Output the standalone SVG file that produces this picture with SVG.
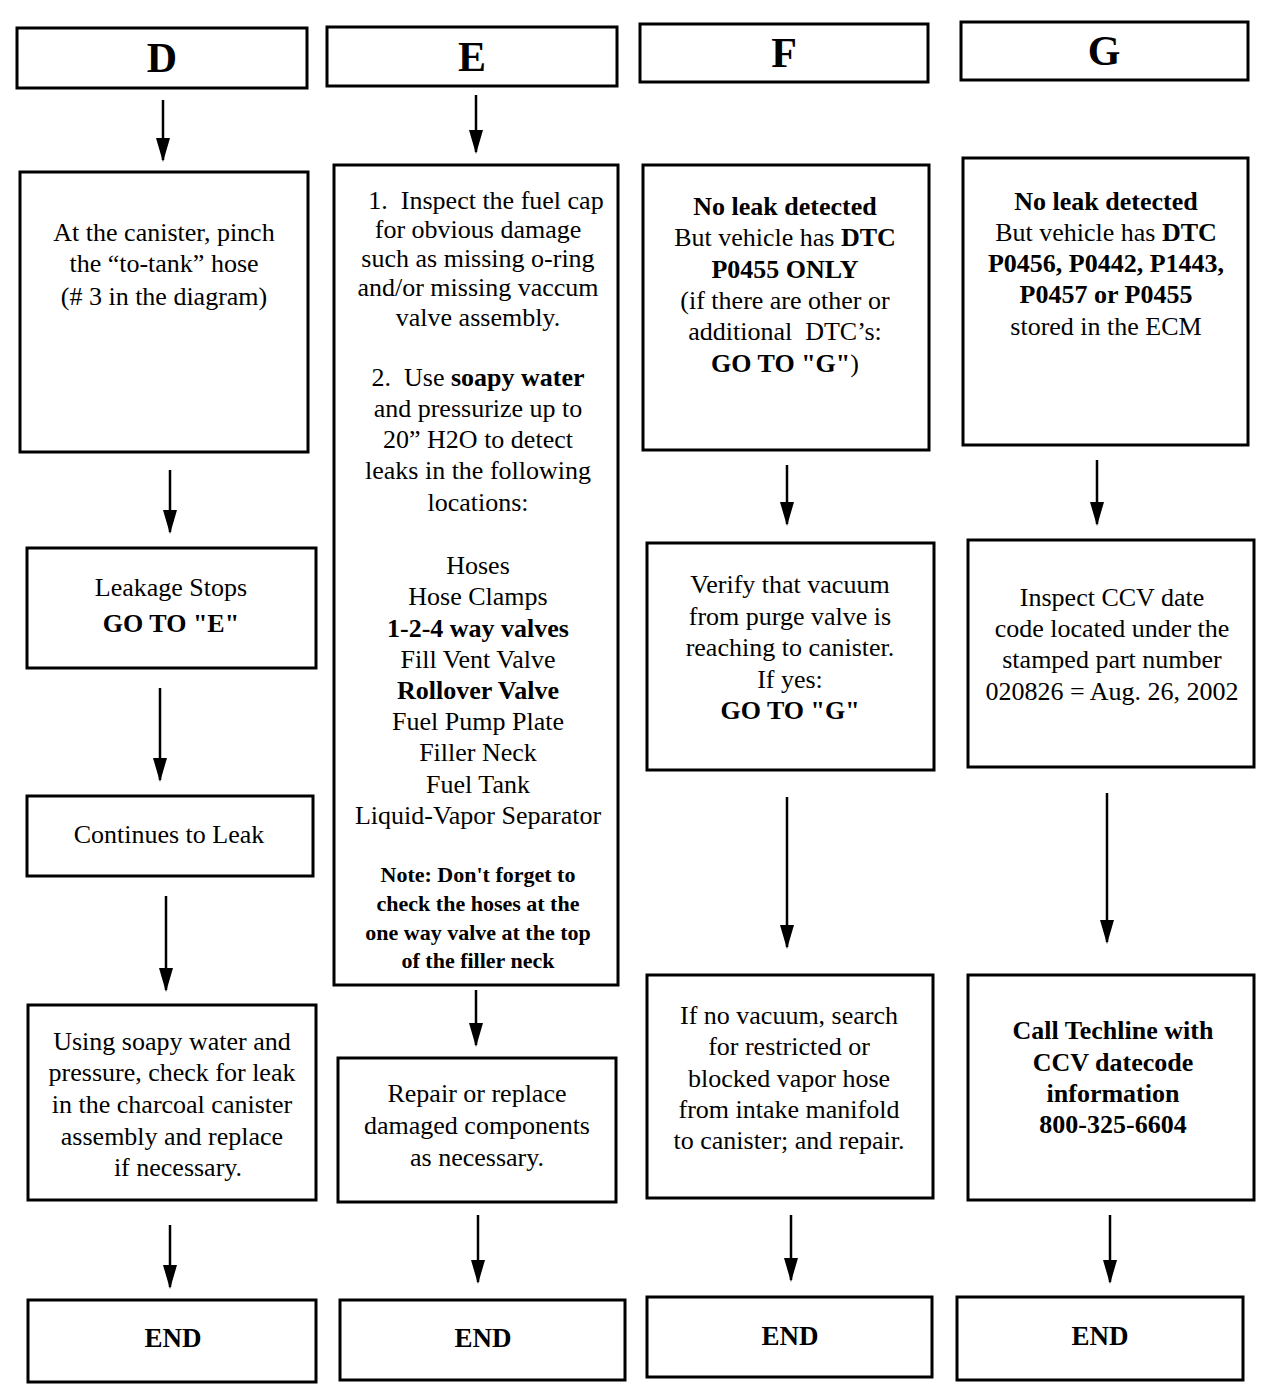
<svg xmlns="http://www.w3.org/2000/svg" width="1280" height="1400" viewBox="0 0 1280 1400">
<style>
  .box { fill: #fff; stroke: #000; stroke-width: 3; }
  text { font-family: "Liberation Serif", "Times New Roman", serif; fill: #000; text-anchor: middle; }
  .hd { font-size: 42px; font-weight: bold; }
  .t { font-size: 26px; }
  .n { font-size: 22px; font-weight: bold; }
  .b { font-weight: bold; }
  .end { font-size: 27px; font-weight: bold; }
  .conn line { stroke: #000; stroke-width: 2.5; marker-end: url(#ah); }
</style>
<defs>
  <marker id="ah" markerWidth="24" markerHeight="14" refX="22" refY="7" orient="auto" markerUnits="userSpaceOnUse">
    <path d="M0,0 L24,7 L0,14 z" fill="#000"/>
  </marker>
</defs>
<rect width="1280" height="1400" fill="#fff"/>

<!-- Column D -->
<g id="hdrD"><rect class="box" x="17" y="28" width="290" height="60"/><text class="hd" x="162" y="72">D</text></g>
<g id="d1"><rect class="box" x="20" y="172" width="288" height="280"/>
  <text class="t" x="164" y="241">At the canister, pinch</text>
  <text class="t" x="164" y="272">the “to-tank” hose</text>
  <text class="t" x="164" y="305">(# 3 in the diagram)</text></g>
<g id="d2"><rect class="box" x="27" y="548" width="289" height="120"/>
  <text class="t" x="171" y="596">Leakage Stops</text>
  <text class="t b" x="171" y="632">GO TO "E"</text></g>
<g id="d3"><rect class="box" x="27" y="796" width="286" height="80"/>
  <text class="t" x="169" y="843">Continues to Leak</text></g>
<g id="d4"><rect class="box" x="28" y="1005" width="288" height="195"/>
  <text class="t" x="172" y="1050">Using soapy water and</text>
  <text class="t" x="172" y="1081">pressure, check for leak</text>
  <text class="t" x="172" y="1113">in the charcoal canister</text>
  <text class="t" x="172" y="1145">assembly and replace</text>
  <text class="t" x="178" y="1176">if necessary.</text></g>
<g id="dEnd"><rect class="box" x="28" y="1300" width="288" height="82"/><text class="end" x="173" y="1347">END</text></g>

<!-- Column E -->
<g id="hdrE"><rect class="box" x="327" y="27" width="290" height="59"/><text class="hd" x="472" y="71">E</text></g>
<g id="e1"><rect class="box" x="334" y="165" width="284" height="820"/>
  <text class="t" x="486" y="209" xml:space="preserve">1.  Inspect the fuel cap</text>
  <text class="t" x="478" y="238">for obvious damage</text>
  <text class="t" x="478" y="267">such as missing o-ring</text>
  <text class="t" x="478" y="296">and/or missing vaccum</text>
  <text class="t" x="478" y="326">valve assembly.</text>
  <text class="t" x="478" y="386" xml:space="preserve">2.  Use <tspan class="b">soapy water</tspan></text>
  <text class="t" x="478" y="417">and pressurize up to</text>
  <text class="t" x="478" y="448">20” H2O to detect</text>
  <text class="t" x="478" y="479">leaks in the following</text>
  <text class="t" x="478" y="511">locations:</text>
  <text class="t" x="478" y="574">Hoses</text>
  <text class="t" x="478" y="605">Hose Clamps</text>
  <text class="t b" x="478" y="637">1-2-4 way valves</text>
  <text class="t" x="478" y="668">Fill Vent Valve</text>
  <text class="t b" x="478" y="699">Rollover Valve</text>
  <text class="t" x="478" y="730">Fuel Pump Plate</text>
  <text class="t" x="478" y="761">Filler Neck</text>
  <text class="t" x="478" y="793">Fuel Tank</text>
  <text class="t" x="478" y="824">Liquid-Vapor Separator</text>
  <text class="n" x="478" y="882">Note: Don't forget to</text>
  <text class="n" x="478" y="911">check the hoses at the</text>
  <text class="n" x="478" y="940">one way valve at the top</text>
  <text class="n" x="478" y="968">of the filler neck</text></g>
<g id="e2"><rect class="box" x="338" y="1058" width="278" height="144"/>
  <text class="t" x="477" y="1102">Repair or replace</text>
  <text class="t" x="477" y="1134">damaged components</text>
  <text class="t" x="477" y="1166">as necessary.</text></g>
<g id="eEnd"><rect class="box" x="340" y="1300" width="285" height="80"/><text class="end" x="483" y="1347">END</text></g>

<!-- Column F -->
<g id="hdrF"><rect class="box" x="640" y="24" width="288" height="58"/><text class="hd" x="784" y="67">F</text></g>
<g id="f1"><rect class="box" x="643" y="165" width="286" height="285"/>
  <text class="t b" x="785" y="215">No leak detected</text>
  <text class="t" x="785" y="246">But vehicle has <tspan class="b">DTC</tspan></text>
  <text class="t b" x="785" y="278">P0455 ONLY</text>
  <text class="t" x="785" y="309">(if there are other or</text>
  <text class="t" x="785" y="340" xml:space="preserve">additional  DTC’s:</text>
  <text class="t" x="785" y="372"><tspan class="b">GO TO "G"</tspan>)</text></g>
<g id="f2"><rect class="box" x="647" y="543" width="287" height="227"/>
  <text class="t" x="790" y="593">Verify that vacuum</text>
  <text class="t" x="790" y="625">from purge valve is</text>
  <text class="t" x="790" y="656">reaching to canister.</text>
  <text class="t" x="790" y="688">If yes:</text>
  <text class="t b" x="790" y="719">GO TO "G"</text></g>
<g id="f3"><rect class="box" x="647" y="975" width="286" height="223"/>
  <text class="t" x="789" y="1024">If no vacuum, search</text>
  <text class="t" x="789" y="1055">for restricted or</text>
  <text class="t" x="789" y="1087">blocked vapor hose</text>
  <text class="t" x="789" y="1118">from intake manifold</text>
  <text class="t" x="789" y="1149">to canister; and repair.</text></g>
<g id="fEnd"><rect class="box" x="647" y="1297" width="285" height="80"/><text class="end" x="790" y="1345">END</text></g>

<!-- Column G -->
<g id="hdrG"><rect class="box" x="961" y="22" width="287" height="58"/><text class="hd" x="1104" y="65">G</text></g>
<g id="g1"><rect class="box" x="963" y="158" width="285" height="287"/>
  <text class="t b" x="1106" y="210">No leak detected</text>
  <text class="t" x="1106" y="241">But vehicle has <tspan class="b">DTC</tspan></text>
  <text class="t b" x="1106" y="272">P0456, P0442, P1443,</text>
  <text class="t b" x="1106" y="303">P0457 or P0455</text>
  <text class="t" x="1106" y="335">stored in the ECM</text></g>
<g id="g2"><rect class="box" x="968" y="540" width="286" height="227"/>
  <text class="t" x="1112" y="606">Inspect CCV date</text>
  <text class="t" x="1112" y="637">code located under the</text>
  <text class="t" x="1112" y="668">stamped part number</text>
  <text class="t" x="1112" y="700">020826 = Aug. 26, 2002</text></g>
<g id="g3"><rect class="box" x="968" y="975" width="286" height="225"/>
  <text class="t b" x="1113" y="1039">Call Techline with</text>
  <text class="t b" x="1113" y="1071">CCV datecode</text>
  <text class="t b" x="1113" y="1102">information</text>
  <text class="t b" x="1113" y="1133">800-325-6604</text></g>
<g id="gEnd"><rect class="box" x="957" y="1297" width="286" height="83"/><text class="end" x="1100" y="1345">END</text></g>

<!-- Connectors -->
<g id="connectors" class="conn">
  <line x1="163" y1="100" x2="163" y2="160"/>
  <line x1="170" y1="470" x2="170" y2="532"/>
  <line x1="160" y1="688" x2="160" y2="780"/>
  <line x1="166" y1="896" x2="166" y2="990"/>
  <line x1="170" y1="1225" x2="170" y2="1287"/>
  <line x1="476" y1="95" x2="476" y2="152"/>
  <line x1="476" y1="990" x2="476" y2="1045"/>
  <line x1="478" y1="1215" x2="478" y2="1282"/>
  <line x1="787" y1="465" x2="787" y2="524"/>
  <line x1="787" y1="797" x2="787" y2="947"/>
  <line x1="791" y1="1215" x2="791" y2="1280"/>
  <line x1="1097" y1="460" x2="1097" y2="524"/>
  <line x1="1107" y1="793" x2="1107" y2="942"/>
  <line x1="1110" y1="1215" x2="1110" y2="1282"/>
</g>
</svg>
